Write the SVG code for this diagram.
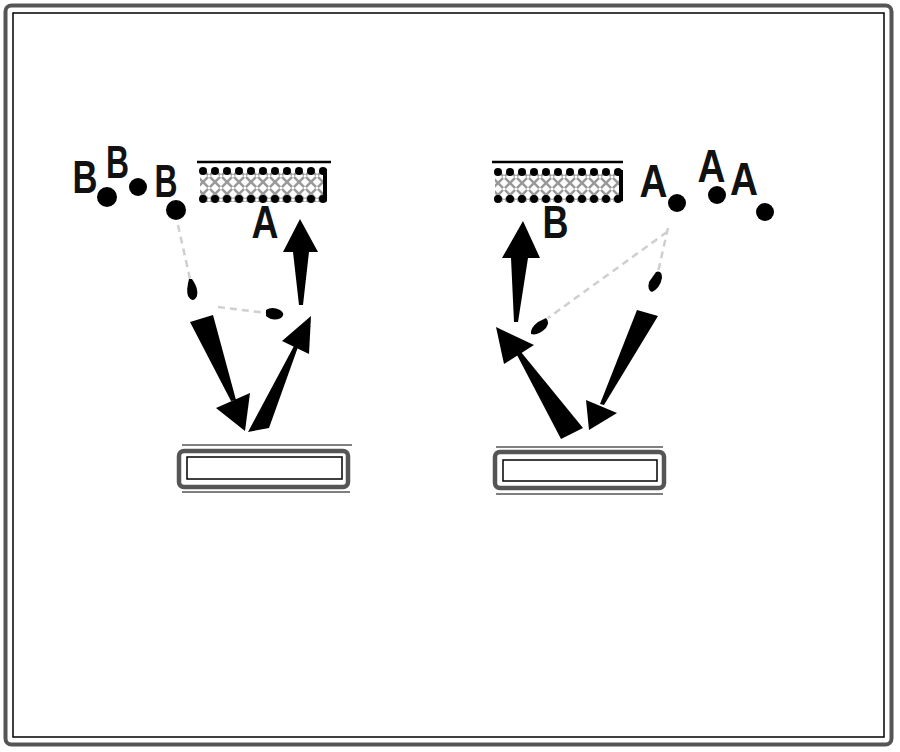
<svg xmlns="http://www.w3.org/2000/svg" width="900" height="752" viewBox="0 0 900 752">
<defs>
<pattern id="hatch" width="12" height="12" patternUnits="userSpaceOnUse" x="203" y="170">
<rect width="12" height="12" fill="#fff"/>
<path d="M0,0 L12,12 M12,0 L0,12" stroke="#999" stroke-width="2.5"/>
<circle cx="6" cy="6" r="1.5" fill="#fff"/>
</pattern>
<pattern id="hatch2" width="12" height="12" patternUnits="userSpaceOnUse" x="498" y="171">
<rect width="12" height="12" fill="#fff"/>
<path d="M0,0 L12,12 M12,0 L0,12" stroke="#999" stroke-width="2.5"/>
<circle cx="6" cy="6" r="1.5" fill="#fff"/>
</pattern>
</defs>
<style>
.lbl{font-family:"Liberation Sans",Arial,sans-serif;font-weight:bold;font-size:46px;fill:#111;text-anchor:middle}
.ion{fill:#000}
.faint{stroke:#cfcfcf;stroke-width:2.5;stroke-dasharray:7 5;fill:none}
.arr{fill:#000}
.baseo{fill:#fff;stroke:#555;stroke-width:4.5}
.basei{fill:none;stroke:#000;stroke-width:1.5}
.thin{stroke:#000;stroke-width:1}
.edge{stroke:#000;stroke-width:8;stroke-dasharray:0 12;stroke-linecap:round}
</style>
<rect x="0" y="0" width="900" height="752" fill="#fff"/>
<g id="frame">
<rect x="5.5" y="5.5" width="886" height="739" rx="6" fill="none" stroke="#555" stroke-width="4"/>
<rect x="13" y="13" width="871" height="724" fill="none" stroke="#000" stroke-width="1.5"/>
</g>

<g id="left-surface">
<line x1="197" y1="162" x2="331" y2="162" stroke="#000" stroke-width="2.5"/>
<rect x="200" y="168" width="127" height="34" fill="url(#hatch)"/>
<line class="edge" x1="203" y1="171" x2="327" y2="171"/>
<line class="edge" x1="203" y1="199" x2="327" y2="199"/>
<line x1="325" y1="169" x2="325" y2="201" stroke="#000" stroke-width="4"/>
</g>
<g id="right-surface">
<line x1="492" y1="162" x2="623" y2="162" stroke="#000" stroke-width="2.5"/>
<rect x="495" y="169" width="128" height="33" fill="url(#hatch2)"/>
<line class="edge" x1="498" y1="172" x2="622" y2="172"/>
<line class="edge" x1="498" y1="199" x2="622" y2="199"/>
<line x1="621" y1="170" x2="621" y2="201" stroke="#000" stroke-width="4"/>
</g>

<g id="left-base">
<line class="thin" x1="182" y1="445" x2="352" y2="445"/>
<rect class="baseo" x="179" y="451" width="169" height="36" rx="5"/>
<rect class="basei" x="187" y="457" width="155" height="22"/>
<line class="thin" x1="182" y1="492" x2="350" y2="492"/>
</g>
<g id="right-base">
<line class="thin" x1="496" y1="447" x2="663" y2="447"/>
<rect class="baseo" x="495" y="452" width="169" height="36" rx="5"/>
<rect class="basei" x="503" y="460" width="154" height="21"/>
<line class="thin" x1="496" y1="494" x2="663" y2="494"/>
</g>

<g id="left-species">
<text class="lbl" x="85" y="193" textLength="25" lengthAdjust="spacingAndGlyphs">B</text>
<circle class="ion" cx="107" cy="197" r="10"/>
<text class="lbl" x="117.5" y="178" textLength="23" lengthAdjust="spacingAndGlyphs">B</text>
<circle class="ion" cx="138" cy="187" r="9"/>
<text class="lbl" x="166" y="197" textLength="23" lengthAdjust="spacingAndGlyphs">B</text>
<circle class="ion" cx="176" cy="210" r="10"/>
<text class="lbl" x="265" y="238" textLength="27" lengthAdjust="spacingAndGlyphs">A</text>
</g>
<g id="right-species">
<text class="lbl" x="555.5" y="238" textLength="26" lengthAdjust="spacingAndGlyphs">B</text>
<text class="lbl" x="653.5" y="197" textLength="28" lengthAdjust="spacingAndGlyphs">A</text>
<circle class="ion" cx="677" cy="203" r="9"/>
<text class="lbl" x="711.5" y="182" textLength="28" lengthAdjust="spacingAndGlyphs">A</text>
<circle class="ion" cx="717" cy="195" r="9"/>
<text class="lbl" x="744" y="195" textLength="28" lengthAdjust="spacingAndGlyphs">A</text>
<circle class="ion" cx="765" cy="212" r="9"/>
</g>

<g id="connectors">
<path class="faint" d="M178,225 L190,279"/>
<path class="arr" d="M189,279 Q186,290 188,296 Q193,304 197,296 Q199,289 192,279 Z"/>
<path class="faint" d="M218,307 L266,313"/>
<path class="arr" d="M266,310 Q272,306 280,310 Q286,314 281,318 Q273,322 266,316 Z"/>
<polygon class="arr" points="300,219 318,252 309,252 303,305 299,305 293,252 283,252"/>
<polygon class="arr" points="190,322 213,315 236,400 231,401"/>
<polygon class="arr" points="216,408 250,393 245,431"/>
<polygon class="arr" points="248,432 269,428 298,347 294,346"/>
<polygon class="arr" points="311,316 282,341 309,354"/>
<path class="faint" d="M668,228 L658,272"/>
<path class="arr" d="M656,272 Q662,270 662,278 Q660,288 652,292 Q647,290 649,282 Z"/>
<path class="faint" d="M667,232 L548,318"/>
<path class="arr" d="M546,318 Q550,322 546,328 Q538,336 531,334 Q530,328 538,322 Z"/>
<polygon class="arr" points="523,221 540,258 528,258 518,322 514,322 511,258 502,258"/>
<polygon class="arr" points="637,310 658,316 604,405 600,404"/>
<polygon class="arr" points="586,400 617,413 589,430"/>
<polygon class="arr" points="561,439 583,428 521,352 517,355"/>
<polygon class="arr" points="496,327 534,345 504,364"/>
</g>
</svg>
